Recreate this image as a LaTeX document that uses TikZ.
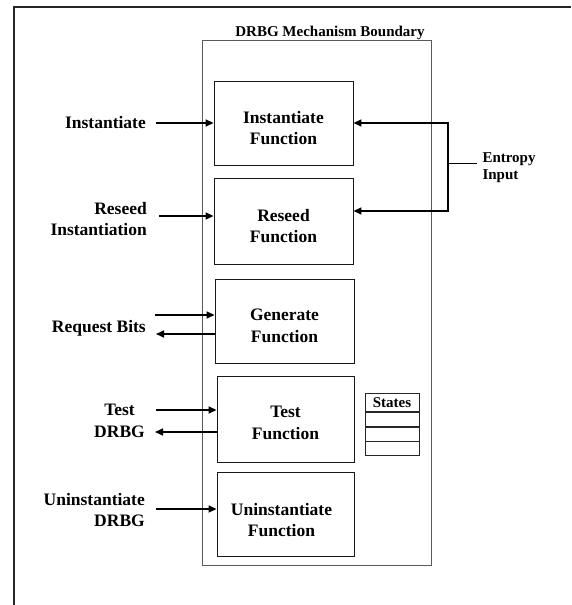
\documentclass[tikz,border=0pt]{standalone}
\usepackage{fontspec}
\setmainfont{Liberation Serif}
\usetikzlibrary{positioning}
\usetikzlibrary{arrows.meta}
\usetikzlibrary{calc}

\begin{document}
\begin{tikzpicture}[x=1pt,y=1pt,
		fnbox/.style={draw=black!90, line width=0.9pt, minimum width=139pt, minimum height=84pt, inner sep=0pt},
		lbl/.style={inner sep=0pt, font=\bfseries\fontsize{17.5}{21.5}\selectfont},
		small/.style={inner sep=0pt, font=\bfseries\fontsize{15}{17}\selectfont},
		arr/.style={line width=1.6pt, -{Triangle[length=8pt,width=7pt]}},
		cell/.style={draw=black!85, line width=0.8pt, minimum width=54pt, inner sep=0pt, anchor=north}]
		\useasboundingbox (0,0) rectangle (571,605);
		
			% Outer frame, only its top and left side show
			\draw[line width=1.8pt, black!85] (571,598) -- (14,598) -- (14,0);
			
			% Mechanism boundary and its title
			\node[draw=black!65, line width=1pt, minimum width=229pt, minimum height=525pt, inner sep=0pt] (bnd) at (316.5,301.5) {};
			\node[small, anchor=base, xshift=13.5pt, yshift=4pt] (title) at (bnd.north) {DRBG Mechanism Boundary};
			
			% Function boxes, text sits a little below the middle
			\node[fnbox, label={[lbl, align=center, yshift=-5pt]center:{Instantiate\\Function}}] (inst) at (283.5,482) {};
			\node[fnbox, minimum height=86pt, label={[lbl, align=center, yshift=-5pt]center:{Reseed\\Function}}] (reseed) at (283.5,384) {};
			\node[fnbox, label={[lbl, align=center, yshift=-5pt]center:{Generate\\Function}}] (gen) at (284.5,284) {};
			\node[fnbox, minimum width=137pt, minimum height=86pt, label={[lbl, align=center, yshift=-4pt]center:{Test\\Function}}] (test) at (285.5,186) {};
			\node[fnbox, minimum width=137pt, label={[lbl, align=center, yshift=-6pt, xshift=-4pt]center:{Uninstantiate\\Function}}] (uninst) at (285.5,91) {};
			
			% Labels on the left
			\node[lbl, anchor=east] (lInst) at (146,482) {Instantiate};
			\node[lbl, anchor=east, align=right] (lRes) at (147,386) {Reseed\\Instantiation};
			\node[lbl, anchor=east] (lReq) at (146,277) {Request Bits};
			\node[lbl, anchor=east, align=center] (lTest) at (145,184) {Test\\DRBG};
			\node[lbl, anchor=east, align=right] (lUn) at (145,95) {Uninstantiate\\DRBG};
			
			% Free ends of the arrows
			\coordinate (instIn) at (156,482);
			\coordinate (resIn) at (159,389);
			\coordinate (reqIn) at (155,290);
			\coordinate (reqOut) at (156,271);
			\coordinate (testIn) at (156,195);
			\coordinate (testOut) at (155,173);
			\coordinate (unIn) at (156,96);
			
			\draw[arr] (instIn) -- (instIn -| inst.west);
			\draw[arr] (resIn) -- (resIn -| reseed.west);
			\draw[arr] (reqIn) -- (reqIn -| gen.west);
			\draw[arr] (reqOut -| gen.west) -- (reqOut);
			\draw[arr] (testIn) -- (testIn -| test.west);
			\draw[arr] (testOut -| test.west) -- (testOut);
			\draw[arr] (unIn) -- (unIn -| uninst.west);
			
			% Entropy input
			\coordinate (entTop) at (448,482);
			\coordinate (entBot) at (448,394);
			\coordinate (ent) at (448,441);
			\draw[line width=1.6pt, {Triangle[length=8pt,width=7pt]}-{Triangle[length=8pt,width=7pt]}] (entTop -| inst.east) -- (entTop) -- (entBot) -- (entBot -| reseed.east);
			\draw[line width=1pt] (ent) -- ++(29,0) node[small, anchor=west, align=left, xshift=5pt, yshift=-4pt] (lEnt) {Entropy\\Input};
			
			% States table
			\node[cell, minimum height=18pt, font=\bfseries\fontsize{15}{17}\selectfont] (st0) at (392,212) {States};
			\foreach \i [count=\j from 0] in {1,2,3}
				{\node[cell, minimum height=14pt, below=0pt of st\j] (st\i) {};}
\end{tikzpicture}
\end{document}
